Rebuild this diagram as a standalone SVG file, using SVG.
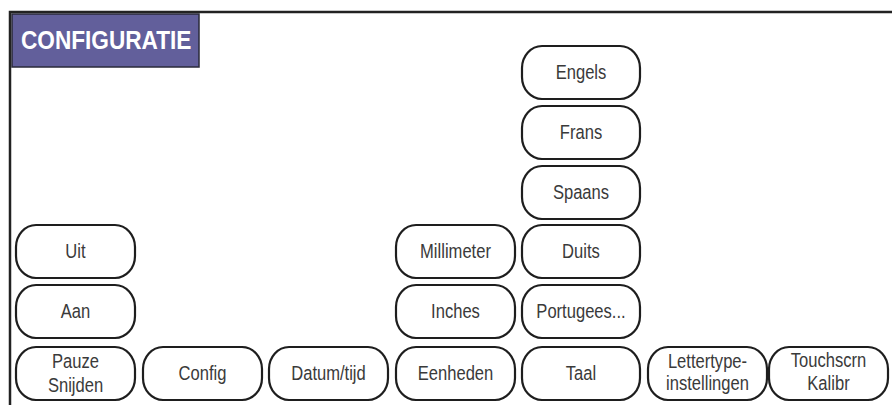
<svg xmlns="http://www.w3.org/2000/svg" width="892" height="405" viewBox="0 0 892 405">
<style>
.btn rect{fill:#fff;stroke:#1e1e1e;stroke-width:2.2}
.btn text{font-family:"Liberation Sans",Arial,sans-serif;font-size:19.5px;fill:#3a3a3a;text-anchor:middle;transform-box:fill-box;transform-origin:center;transform:scaleX(0.85)}
.title{font-family:"Liberation Sans",Arial,sans-serif;font-weight:bold;font-size:26px;fill:#fff;transform-box:fill-box;transform-origin:left;transform:scaleX(0.87)}
</style>
<rect width="892" height="405" fill="#fff"/>
<g id="frame">
<path d="M10,405 V12 H892" fill="none" stroke="#222" stroke-width="2.5"/>
</g>
<g id="title">
<rect x="12" y="14" width="187" height="53" fill="#625f9b" stroke="#2a2a3a" stroke-width="1.5"/>
<text class="title" x="21" y="49">CONFIGURATIE</text>
</g>
<g id="connectors"></g>
<g id="uit" class="btn"><rect x="16" y="225" width="119" height="53" rx="20" ry="22"/><text x="75.5" y="258">Uit</text></g>
<g id="aan" class="btn"><rect x="16" y="285" width="119" height="53" rx="20" ry="22"/><text x="75.5" y="318">Aan</text></g>
<g id="pauze" class="btn"><rect x="16" y="347" width="119" height="53" rx="20" ry="22"/><text x="75.5" y="368">Pauze</text><text x="75.5" y="392">Snijden</text></g>
<g id="config" class="btn"><rect x="143" y="347" width="119" height="53" rx="20" ry="22"/><text x="202.5" y="380">Config</text></g>
<g id="datum" class="btn"><rect x="269" y="347" width="119" height="53" rx="20" ry="22"/><text x="328.5" y="380">Datum/tijd</text></g>
<g id="millimeter" class="btn"><rect x="396" y="225" width="119" height="53" rx="20" ry="22"/><text x="455.5" y="258">Millimeter</text></g>
<g id="inches" class="btn"><rect x="396" y="285" width="119" height="53" rx="20" ry="22"/><text x="455.5" y="318">Inches</text></g>
<g id="eenheden" class="btn"><rect x="396" y="347" width="119" height="53" rx="20" ry="22"/><text x="455.5" y="380">Eenheden</text></g>
<g id="engels" class="btn"><rect x="522" y="46" width="118" height="53" rx="20" ry="22"/><text x="581" y="79">Engels</text></g>
<g id="frans" class="btn"><rect x="522" y="106" width="118" height="53" rx="20" ry="22"/><text x="581" y="139">Frans</text></g>
<g id="spaans" class="btn"><rect x="522" y="166" width="118" height="53" rx="20" ry="22"/><text x="581" y="199">Spaans</text></g>
<g id="duits" class="btn"><rect x="522" y="225" width="118" height="53" rx="20" ry="22"/><text x="581" y="258">Duits</text></g>
<g id="portugees" class="btn"><rect x="522" y="285" width="118" height="53" rx="20" ry="22"/><text x="581" y="318">Portugees...</text></g>
<g id="taal" class="btn"><rect x="522" y="347" width="118" height="53" rx="20" ry="22"/><text x="581" y="380">Taal</text></g>
<g id="lettertype" class="btn"><rect x="648" y="347" width="119" height="53" rx="20" ry="22"/><text x="707.5" y="368">Lettertype-</text><text x="707.5" y="390">instellingen</text></g>
<g id="touchscrn" class="btn"><rect x="769" y="347" width="119" height="53" rx="20" ry="22"/><text x="828.5" y="367">Touchscrn</text><text x="828.5" y="390">Kalibr</text></g>
</svg>
